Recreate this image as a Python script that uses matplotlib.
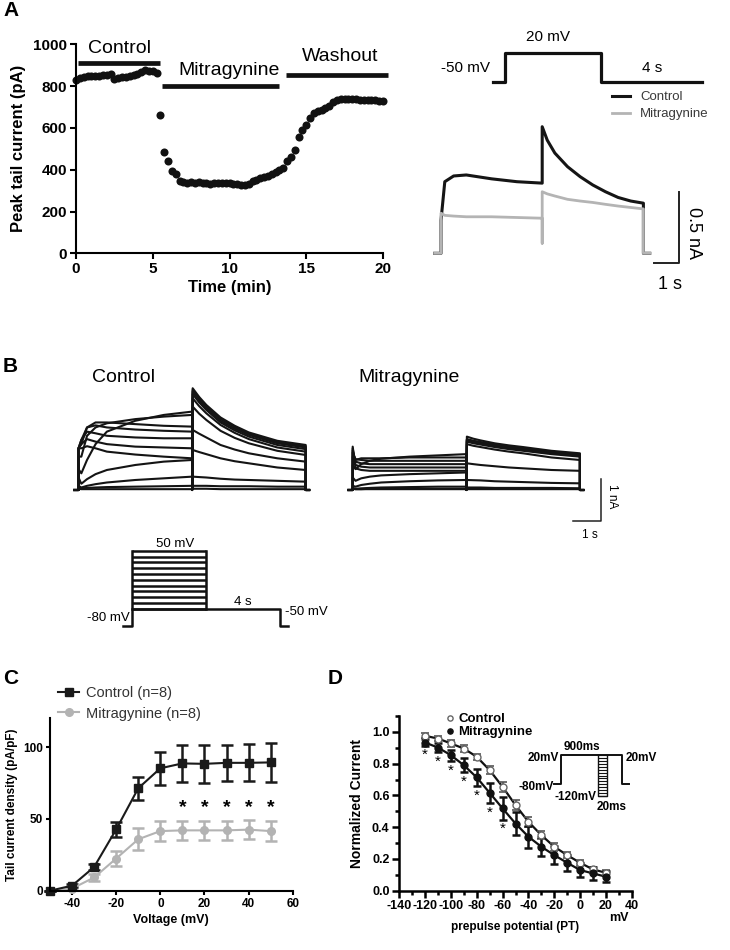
import numpy as np
import matplotlib.pyplot as plt

plt.rcParams['font.family'] = ['Liberation Sans', 'DejaVu Sans']
plt.rcParams['axes.unicode_minus'] = False

# ---------------- data ----------------
# A: peak tail current over time (one sweep every 15 s)
a_time = np.arange(0, 20.01, 0.25)
a_current = [830, 838, 845, 848, 848, 850, 850, 852, 855, 858,
             836, 838, 842, 845, 848, 852, 858, 866, 875, 872,
             872, 862, 660, 485, 442, 395, 378, 345, 340, 338,
             340, 338, 340, 338, 335, 333, 335, 336, 338, 334,
             335, 330, 330, 327, 325, 330, 345, 350, 358, 365,
             372, 380, 390, 400, 410, 440, 462, 492, 555, 590,
             615, 645, 670, 682, 688, 695, 705, 722, 735, 737,
             737, 738, 740, 738, 735, 735, 733, 732, 732, 730,
             730]
periods = ["Control", "Mitragynine", "Washout"]
period_start = [0.1, 5.6, 13.7]
period_end = [5.45, 13.25, 20.3]
period_level = [909, 800, 853]

# A right: example traces (s, nA)
tr_t = [-0.25, 0, 0, 0.15, 0.5, 1, 2, 3, 4, 4, 4, 4.2, 4.5, 5, 5.5, 6, 6.5, 7, 7.5, 8, 8, 8.25]
tr_ctrl = [0, 0, 0.23, 0.50, 0.54, 0.547, 0.52, 0.50, 0.49, 0.49, 0.884, 0.79, 0.70, 0.605,
           0.535, 0.477, 0.43, 0.39, 0.365, 0.35, 0, 0]
tr_mitra = [0, 0, 0.28, 0.265, 0.26, 0.255, 0.255, 0.25, 0.245, 0.07, 0.43, 0.415, 0.40, 0.377,
            0.365, 0.355, 0.342, 0.33, 0.32, 0.31, 0, 0]

# B: families of currents (nA) for steps -50..50 mV
b_volts = [-50, -40, -30, -20, -10, 0, 10, 20, 30, 40, 50]
step_times = [0, 0.1, 0.3, 0.6, 1, 2, 3, 4]
tail_times = [4.02, 4.25, 4.5, 5, 5.5, 6, 7, 8]
ctrl_step = [[0.03, 0.02, 0.02, 0.02, 0.02, 0.02, 0.02, 0.02],
             [0.05, 0.04, 0.05, 0.06, 0.07, 0.08, 0.09, 0.10],
             [0.10, 0.06, 0.10, 0.14, 0.18, 0.24, 0.28, 0.32],
             [0.30, 0.15, 0.26, 0.38, 0.48, 0.60, 0.68, 0.72],
             [0.50, 0.40, 0.72, 1.10, 1.40, 1.66, 1.80, 1.88],
             [0.80, 0.80, 1.30, 1.50, 1.60, 1.70, 1.76, 1.80],
             [1.00, 1.10, 1.50, 1.62, 1.62, 1.58, 1.54, 1.52],
             [1.00, 1.20, 1.50, 1.55, 1.50, 1.45, 1.42, 1.40],
             [1.00, 1.20, 1.40, 1.36, 1.30, 1.26, 1.24, 1.24],
             [1.00, 1.10, 1.22, 1.16, 1.10, 1.04, 1.02, 1.00],
             [1.00, 1.00, 1.05, 1.00, 0.92, 0.85, 0.80, 0.76]]
ctrl_tail = [[0.03, 0.03, 0.03, 0.02, 0.02, 0.02, 0.02, 0.02],
             [0.10, 0.10, 0.10, 0.09, 0.09, 0.09, 0.08, 0.08],
             [0.32, 0.31, 0.30, 0.27, 0.25, 0.24, 0.22, 0.20],
             [0.96, 0.91, 0.86, 0.76, 0.69, 0.64, 0.54, 0.48],
             [1.44, 1.35, 1.26, 1.08, 0.97, 0.88, 0.76, 0.68],
             [2.00, 1.83, 1.68, 1.42, 1.25, 1.12, 0.94, 0.84],
             [2.20, 2.01, 1.84, 1.56, 1.37, 1.22, 1.02, 0.92],
             [2.30, 2.10, 1.92, 1.62, 1.43, 1.28, 1.08, 0.98],
             [2.36, 2.15, 1.96, 1.66, 1.47, 1.32, 1.12, 1.02],
             [2.40, 2.19, 2.00, 1.70, 1.51, 1.35, 1.15, 1.05],
             [2.44, 2.23, 2.04, 1.74, 1.54, 1.38, 1.18, 1.08]]
mitra_step = [[0.03, 0.02, 0.02, 0.02, 0.02, 0.02, 0.02, 0.02],
              [0.03, 0.02, 0.02, 0.03, 0.03, 0.03, 0.03, 0.03],
              [0.05, 0.03, 0.04, 0.05, 0.06, 0.07, 0.08, 0.08],
              [0.10, 0.08, 0.12, 0.15, 0.18, 0.21, 0.23, 0.24],
              [0.30, 0.22, 0.28, 0.32, 0.35, 0.38, 0.40, 0.42],
              [0.60, 0.50, 0.62, 0.70, 0.75, 0.80, 0.83, 0.86],
              [0.80, 0.72, 0.76, 0.76, 0.76, 0.78, 0.78, 0.78],
              [0.90, 0.74, 0.72, 0.70, 0.70, 0.70, 0.70, 0.70],
              [0.95, 0.68, 0.64, 0.62, 0.62, 0.62, 0.62, 0.62],
              [1.00, 0.60, 0.56, 0.54, 0.54, 0.54, 0.54, 0.54],
              [1.04, 0.52, 0.48, 0.46, 0.46, 0.46, 0.46, 0.46]]
mitra_tail = [[0.02, 0.02, 0.02, 0.02, 0.02, 0.02, 0.02, 0.02],
              [0.03, 0.03, 0.03, 0.03, 0.03, 0.03, 0.03, 0.03],
              [0.06, 0.06, 0.06, 0.05, 0.05, 0.05, 0.05, 0.04],
              [0.24, 0.235, 0.23, 0.21, 0.20, 0.19, 0.17, 0.16],
              [0.64, 0.62, 0.60, 0.57, 0.54, 0.52, 0.48, 0.46],
              [1.10, 1.06, 1.03, 0.97, 0.92, 0.88, 0.78, 0.72],
              [1.16, 1.12, 1.09, 1.03, 0.98, 0.94, 0.86, 0.80],
              [1.19, 1.15, 1.12, 1.06, 1.01, 0.97, 0.89, 0.83],
              [1.21, 1.17, 1.14, 1.08, 1.03, 0.99, 0.91, 0.85],
              [1.22, 1.18, 1.15, 1.09, 1.04, 1.00, 0.92, 0.86],
              [1.28, 1.23, 1.19, 1.12, 1.07, 1.03, 0.94, 0.88]]

# C: tail current density (pA/pF)
c_volts = [-50, -40, -30, -20, -10, 0, 10, 20, 30, 40, 50]
c_ctrl = [0, 3.5, 16.5, 42.7, 71.3, 85.2, 88.6, 88.3, 89, 89, 89.3]
c_ctrl_sem = [0, 1, 2, 5, 8, 11.5, 12.6, 13, 12.5, 12.8, 13.8]
c_mitra = [0, 1.5, 9.2, 22.4, 35.8, 41.5, 42, 42, 42, 42.5, 41.5]
c_mitra_sem = [0, 1, 2.5, 5.5, 7.5, 7, 6.5, 6.5, 6.5, 6.5, 7]
c_sig = [10, 20, 30, 40, 50]

# D: steady-state inactivation
d_volts = [-120, -110, -100, -90, -80, -70, -60, -50, -40, -30, -20, -10, 0, 10, 20]
d_ctrl = [0.975, 0.958, 0.927, 0.895, 0.843, 0.759, 0.654, 0.539, 0.434, 0.35,
          0.277, 0.224, 0.176, 0.134, 0.113]
d_ctrl_sem = [0.015, 0.015, 0.02, 0.02, 0.02, 0.025, 0.03, 0.03, 0.03, 0.025,
              0.025, 0.02, 0.02, 0.015, 0.015]
d_mitra = [0.933, 0.901, 0.853, 0.79, 0.713, 0.616, 0.518, 0.423, 0.34, 0.277,
           0.224, 0.176, 0.13, 0.109, 0.088]
d_mitra_sem = [0.02, 0.03, 0.035, 0.045, 0.055, 0.065, 0.07, 0.075, 0.07, 0.06,
               0.055, 0.05, 0.045, 0.04, 0.035]
d_sig = [-120, -110, -100, -90, -80, -70, -60]

W, H = 730, 950
fig = plt.figure(figsize=(W / 100, H / 100), dpi=100)


def px_axes(l, t, r, b):
    return fig.add_axes([l / W, 1 - b / H, (r - l) / W, (b - t) / H])


def mapped_axes(l, t, r, b, x0, y0, sx, sy):
    # axes whose data units map to sx / sy pixels, origin at pixel (x0, y0)
    ax = px_axes(l, t, r, b)
    ax.set_xlim((l - x0) / sx, (r - x0) / sx)
    ax.set_ylim((y0 - b) / sy, (y0 - t) / sy)
    ax.axis('off')
    return ax


def style(ax, lw, fs, length):
    for s in ('top', 'right'):
        ax.spines[s].set_visible(False)
    for s in ('left', 'bottom'):
        ax.spines[s].set_linewidth(lw)
    ax.tick_params(which='major', direction='out', width=lw, length=length, labelsize=fs, pad=2)
    ax.tick_params(which='minor', direction='out', width=lw, length=length * 0.55)
    plt.setp(ax.get_xticklabels() + ax.get_yticklabels(), fontweight='bold')


def ftext(x, y, s, **kw):
    fig.text(x / W, 1 - y / H, s, **kw)


for lab, x, y in [("A", 3, 11), ("B", 3, 366), ("C", 3, 678), ("D", 328, 678)]:
    ftext(x, y, lab, fontsize=15, fontweight='bold', va='center')

# ---------------- A left ----------------
axA = px_axes(76, 44.3, 383, 253.3)
axA.plot(a_time, a_current, 'o', color='#111111', ms=5.8, mec='none', clip_on=False)
axA.hlines(period_level, period_start, period_end, colors='#111111', lw=3.4, clip_on=False)
axA.text(2.83, 982, periods[0], fontsize=14, ha='center', va='center')
axA.text(10.0, 877, periods[1], fontsize=14, ha='center', va='center')
axA.text(17.2, 944, periods[2], fontsize=14, ha='center', va='center')
axA.set_xlim(0, 20)
axA.set_ylim(0, 1000)
axA.set_xticks([0, 5, 10, 15, 20])
axA.set_yticks(range(0, 1001, 200))
axA.set_xlabel("Time (min)", fontsize=12, fontweight='bold', labelpad=3)
axA.set_ylabel("Peak tail current (pA)", fontsize=12, fontweight='bold', labelpad=5)
style(axA, 1.5, 11, 4.5)

# ---------------- A right ----------------
axP = mapped_axes(420, 15, 730, 95, 505, 61.4, 24, 0.4057)
axP.plot([-0.5, 0, 0, 4, 4, 8.2], [-50, -50, 20, 20, -50, -50], color='#111111', lw=2.3)
axP.text(1.79, 60.9, "20 mV", fontsize=11, ha='center', va='center')
axP.text(-0.62, -16, "-50 mV", fontsize=11, ha='right', va='center')
axP.text(6.11, -16, "4 s", fontsize=11, ha='center', va='center')

axT = mapped_axes(400, 85, 730, 300, 441, 253.3, 25.3, 143.2)
lc, = axT.plot(tr_t, tr_ctrl, color='#151515', lw=2.2)
lm, = axT.plot(tr_t, tr_mitra, color='#b4b4b4', lw=2.0)
axT.plot([8.41, 9.41, 9.41], [-0.07, -0.07, 0.43], color='#222222', lw=1.4)
axT.text(9.97, 0.14, "0.5 nA", fontsize=13, rotation=270, ha='center', va='center')
axT.text(9.05, -0.22, "1 s", fontsize=13, ha='center', va='center')
leg = axT.legend([lc, lm], ["Control", "Mitragynine"], loc='upper left',
                 bbox_to_anchor=(612 / W, 1 - 91 / H), bbox_transform=fig.transFigure,
                 frameon=False, fontsize=9.5, handlelength=1.4, handletextpad=0.75,
                 borderpad=0, borderaxespad=0, labelspacing=0.36)
for t in leg.get_texts():
    t.set_color('#3a3a3a')

# ---------------- B ----------------
ftext(92, 377, "Control", fontsize=14, va='center')
ftext(358, 378, "Mitragynine", fontsize=14, va='center')


def draw_family(ax, steps, tails):
    for sv, tv in zip(steps, tails):
        t = np.concatenate([[-0.15, 0], step_times, [4], tail_times, [8, 8.12]])
        i = np.concatenate([[0, 0], sv, [0], tv, [0, 0]])
        ax.plot(t, i, color='#141414', lw=1.5)


axBc = mapped_axes(60, 380, 335, 520, 78.5, 490, 28.4, 41.7)
draw_family(axBc, ctrl_step, ctrl_tail)
axBm = mapped_axes(335, 380, 640, 545, 352.7, 490, 28.4, 41.7)
draw_family(axBm, mitra_step, mitra_tail)
axBm.plot([7.74, 8.74, 8.74], [-0.743, -0.743, 0.257], color='#222222', lw=1.1)
axBm.text(9.12, -0.16, "1 nA", fontsize=8.5, rotation=270, ha='center', va='center')
axBm.text(8.36, -1.08, "1 s", fontsize=8.5, ha='center', va='center')

# protocol B
axBp = mapped_axes(60, 530, 340, 635, 131.7, 579.7, 18.5, 0.58)
axBp.hlines(b_volts, 0, 4, colors='#111111', lw=1.8)
axBp.plot([-0.45, 0, 0], [-80, -80, 50], color='#111111', lw=1.8)
axBp.plot([4, 4], [-50, 50], color='#111111', lw=1.8)
axBp.plot([0, 8, 8, 8.45], [-50, -50, -80, -80], color='#111111', lw=1.8)
axBp.text(2.34, 61.6, "50 mV", fontsize=9.5, ha='center', va='center')
axBp.text(-0.13, -66, "-80 mV", fontsize=9.5, ha='right', va='center')
axBp.text(6.03, -38, "4 s", fontsize=9.5, ha='center', va='center')
axBp.text(8.29, -56, "-50 mV", fontsize=9.5, ha='left', va='center')

# ---------------- C ----------------
axC = px_axes(50, 718.3, 292.7, 890.7)
em = axC.errorbar(c_volts, c_mitra, yerr=c_mitra_sem, fmt='-o', color='#b3b3b3', ms=5.5,
                  lw=1.5, elinewidth=1.8, capsize=4, capthick=1.8, clip_on=False)
ec = axC.errorbar(c_volts, c_ctrl, yerr=c_ctrl_sem, fmt='-s', color='#1a1a1a', ms=5.2,
                  lw=1.5, elinewidth=1.8, capsize=4, capthick=1.8, clip_on=False)
for v in c_sig:
    axC.text(v, 58, "*", fontsize=14, fontweight='bold', ha='center', va='center')
axC.set_xlim(-50, 60)
axC.set_ylim(0, 120)
axC.set_xticks([-40, -20, 0, 20, 40, 60])
axC.set_yticks([0, 50, 100])
axC.set_xlabel("Voltage (mV)", fontsize=9, fontweight='bold', labelpad=3)
axC.set_ylabel("Tail current density (pA/pF)", fontsize=8.5, fontweight='bold', labelpad=4)
style(axC, 1.5, 8.5, 3)
legC = axC.legend([ec.lines[0], em.lines[0]], ["Control (n=8)", "Mitragynine (n=8)"],
                  loc='upper left', bbox_to_anchor=(58 / W, 1 - 686 / H),
                  bbox_transform=fig.transFigure, frameon=False, fontsize=10.5,
                  handlelength=1.45, handletextpad=0.5, borderpad=0, borderaxespad=0,
                  labelspacing=0.45)
for t in legC.get_texts():
    t.set_color('#333333')

# ---------------- D ----------------
axD = px_axes(399.3, 716, 631.7, 890.7)
axD.plot(d_volts, d_ctrl, color='#111111', lw=1.6)
axD.plot(d_volts, d_mitra, color='#111111', lw=1.6)
dc = axD.errorbar(d_volts, d_ctrl, yerr=d_ctrl_sem, fmt='o', color='#555555', mfc='white',
                  mec='#666666', ms=5, elinewidth=1.2, capsize=3, capthick=1.2)
dm = axD.errorbar(d_volts, d_mitra, yerr=d_mitra_sem, fmt='o', color='#111111', ms=5,
                  elinewidth=1.8, capsize=3, capthick=1.8)
for v, m, s in zip(d_volts, d_mitra, d_mitra_sem):
    if v in d_sig:
        axD.text(v, m - s - 0.06, "*", fontsize=11, ha='center', va='center')
axD.set_xlim(-140, 40)
axD.set_ylim(0, 1.1)
axD.set_xticks(range(-140, 41, 20))
axD.set_xticks(range(-130, 40, 20), minor=True)
axD.set_yticks([0, 0.2, 0.4, 0.6, 0.8, 1.0])
axD.set_yticklabels(["0.0", "0.2", "0.4", "0.6", "0.8", "1.0"])
axD.set_yticks([0.1, 0.3, 0.5, 0.7, 0.9, 1.1], minor=True)
axD.set_xlabel("prepulse potential (PT)", fontsize=8.5, fontweight='bold', labelpad=6)
axD.set_ylabel("Normalized Current", fontsize=10, fontweight='bold', labelpad=6)
style(axD, 1.8, 9, 5)
axD.text(619 / W, 1 - 918 / H, "mV", transform=fig.transFigure, fontsize=9,
         fontweight='bold', ha='center', va='center')
axD.legend([dc.lines[0], dm.lines[0]], ["Control", "Mitragynine"], loc='upper left',
           bbox_to_anchor=(446 / W, 1 - 713 / H), bbox_transform=fig.transFigure,
           frameon=False, prop=dict(weight='bold', size=9.5), handlelength=0.6,
           handletextpad=0.35, borderpad=0, borderaxespad=0, labelspacing=0.05,
           markerscale=0.75)

# protocol D (schematic)
axDp = mapped_axes(530, 735, 650, 815, 560.7, 760.9, 1, 0.293)
axDp.plot([-6.4, 0, 0, 61, 61, 68.6], [-80, -80, 20, 20, -80, -80], color='#111111', lw=1.4)
axDp.hlines(d_volts, 37, 46.6, colors='#111111', lw=0.8)
axDp.plot([37, 37, 46.6, 46.6], [20, -120, -120, 20], color='#111111', lw=1.0)
axDp.text(-1.4, 9, "20mV", fontsize=8.5, fontweight='bold', ha='right', va='center')
axDp.text(21.6, 48, "900ms", fontsize=8.5, fontweight='bold', ha='center', va='center')
axDp.text(65.3, 9, "20mV", fontsize=8.5, fontweight='bold', ha='left', va='center')
axDp.text(-6.4, -88, "-80mV", fontsize=8.5, fontweight='bold', ha='right', va='center')
axDp.text(36, -122, "-120mV", fontsize=8.5, fontweight='bold', ha='right', va='center')
axDp.text(51, -158, "20ms", fontsize=8.5, fontweight='bold', ha='center', va='center')

fig.savefig("out.png", dpi=100)
